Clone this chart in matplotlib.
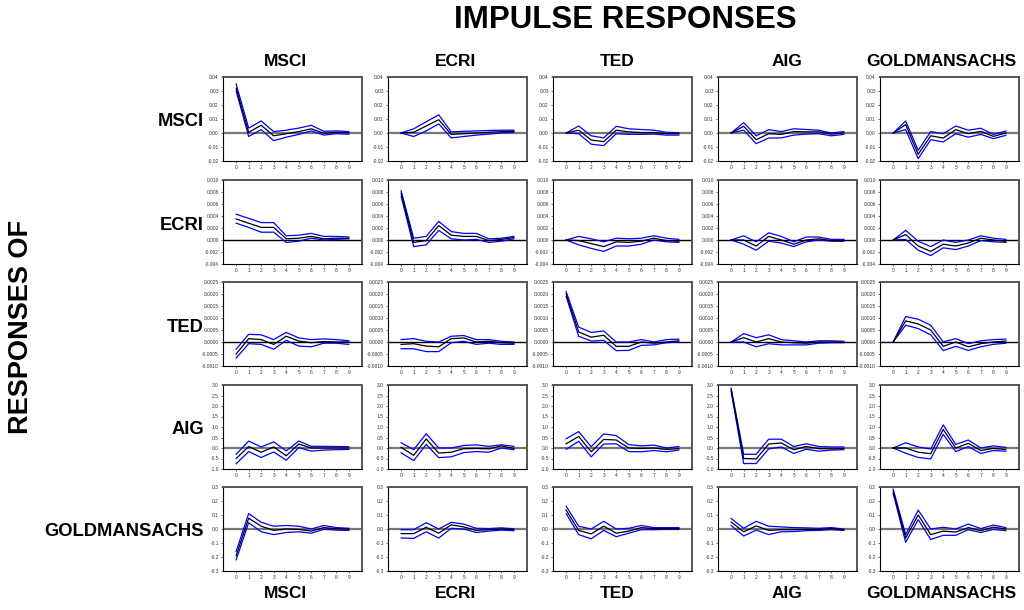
import matplotlib.pyplot as plt
import numpy as np

plt.rcParams['font.family'] = ['Liberation Sans', 'DejaVu Sans']

# --- variables (impulses = columns, responses = rows) ---
names = ["MSCI", "ECRI", "TED", "AIG", "GOLDMANSACHS"]
periods = list(range(10))

# response of MSCI to each impulse (mid, upper, lower band)
msci_mid = [
    [0.032, 0.0005, 0.0055, -0.002, -0.0005, 0.001, 0.003, -0.0002, 0.0005, 0.0002],
    [0.0, 0.0005, 0.005, 0.0095, -0.001, -0.0005, 0.0, 0.0005, 0.001, 0.0012],
    [0.0, 0.002, -0.005, -0.0062, 0.002, 0.0008, 0.0003, 0.0003, -0.0005, -0.0005],
    [0.0, 0.0048, -0.0048, -0.0005, -0.001, 0.001, 0.0008, 0.0008, -0.0008, 0.0],
    [0.0, 0.006, -0.0152, -0.002, -0.0036, 0.0024, -0.0005, 0.0012, -0.0024, 0.0],
]
msci_up = [
    [0.035, 0.0035, 0.0086, 0.001, 0.002, 0.0035, 0.0055, 0.0012, 0.0015, 0.001],
    [0.0, 0.003, 0.008, 0.013, 0.0008, 0.0012, 0.0015, 0.0018, 0.002, 0.002],
    [0.0, 0.005, -0.002, -0.0035, 0.0048, 0.003, 0.0025, 0.002, 0.0005, 0.0002],
    [0.0, 0.0074, -0.002, 0.0024, 0.001, 0.003, 0.0025, 0.002, 0.0, 0.001],
    [0.0, 0.0086, -0.0124, 0.001, -0.0005, 0.005, 0.002, 0.0034, -0.001, 0.0014],
]
msci_lo = [
    [0.030, -0.0025, 0.0024, -0.0055, -0.003, -0.001, 0.0015, -0.0015, -0.0005, -0.0008],
    [0.0, -0.0025, 0.0015, 0.0065, -0.0035, -0.0025, -0.0015, -0.0008, 0.0, 0.0005],
    [0.0, -0.0005, -0.008, -0.009, -0.0005, -0.001, -0.001, -0.0008, -0.0015, -0.0015],
    [0.0, 0.002, -0.0076, -0.0036, -0.0035, -0.0015, -0.0008, -0.0005, -0.002, -0.001],
    [0.0, 0.0024, -0.0183, -0.0048, -0.0064, -0.0005, -0.003, -0.001, -0.004, -0.0017],
]

# response of ECRI
ecri_mid = [
    [0.0035, 0.0028, 0.0021, 0.0021, 0.0002, 0.0003, 0.0006, 0.0002, 0.0003, 0.0003],
    [0.0078, -0.0004, -0.0001, 0.0024, 0.0008, 0.0006, 0.0006, -0.0001, 0.0001, 0.0004],
    [0.0, -0.0001, -0.0006, -0.0011, -0.0003, -0.0004, -0.0002, 0.0003, -0.0001, -0.0002],
    [0.0, 0.0, -0.001, 0.0006, 0.0, -0.0007, 0.0, 0.0002, -0.0001, -0.0001],
    [0.0, 0.0009, -0.001, -0.0019, -0.0007, -0.001, -0.0005, 0.0003, 0.0, -0.0002],
]
ecri_up = [
    [0.0043, 0.0036, 0.0029, 0.0029, 0.0007, 0.0008, 0.0011, 0.0006, 0.0006, 0.0005],
    [0.0082, 0.0003, 0.0006, 0.0031, 0.0014, 0.0011, 0.0011, 0.0002, 0.0003, 0.0006],
    [0.0, 0.0006, 0.0002, -0.0003, 0.0003, 0.0002, 0.0003, 0.0007, 0.0003, 0.0001],
    [0.0, 0.0007, -0.0003, 0.0012, 0.0006, -0.0003, 0.0005, 0.0005, 0.0001, 0.0001],
    [0.0, 0.0016, -0.0002, -0.0011, 0.0, -0.0004, 0.0, 0.0007, 0.0003, 0.0001],
]
ecri_lo = [
    [0.0028, 0.0021, 0.0013, 0.0013, -0.0004, -0.0002, 0.0003, 0.0, 0.0001, 0.0002],
    [0.0073, -0.0011, -0.0008, 0.0016, 0.0002, 0.0, 0.0001, -0.0004, -0.0002, 0.0002],
    [0.0, -0.0008, -0.0014, -0.0019, -0.001, -0.001, -0.0007, 0.0, -0.0003, -0.0004],
    [0.0, -0.0007, -0.0017, -0.0002, -0.0005, -0.0011, -0.0003, 0.0, -0.0002, -0.0002],
    [0.0, 0.0001, -0.0017, -0.0026, -0.0013, -0.0016, -0.001, -0.0001, -0.0003, -0.0004],
]

# response of TED
ted_mid = [
    [-0.0005, 0.00014, 0.0001, -0.0001, 0.00024, 0.00004, -0.00003, 0.00002, 0.0, 0.0],
    [-0.0001, -0.00007, -0.00017, -0.0002, 0.00014, 0.00017, 0.0, 0.00003, -0.00003, -0.00005],
    [0.0020, 0.00042, 0.0002, 0.00028, -0.00018, -0.00018, 0.0, -0.00005, 0.0, 0.00005],
    [0.0, 0.00018, 0.0, 0.00014, 0.0, -0.00003, -0.00005, 0.0, 0.0, 0.0],
    [0.0, 0.00088, 0.00075, 0.0005, -0.00018, 0.0, -0.0002, -0.00007, 0.0, 0.00004],
]
ted_up = [
    [-0.0003, 0.00032, 0.0003, 0.0001, 0.0004, 0.00017, 0.0001, 0.00013, 0.0001, 0.00005],
    [0.0001, 0.00014, 0.00003, 0.0, 0.00024, 0.00027, 0.0001, 0.0001, 0.00003, 0.0],
    [0.0021, 0.00062, 0.0004, 0.00046, 0.0, 0.0, 0.0001, 0.0, 0.0001, 0.00012],
    [0.0, 0.00035, 0.00018, 0.0003, 0.0001, 0.00005, 0.0, 0.00005, 0.00005, 0.00003],
    [0.0, 0.00106, 0.00095, 0.0007, 0.0, 0.00014, -0.00007, 0.00005, 0.0001, 0.00012],
]
ted_lo = [
    [-0.00067, -0.00007, -0.0001, -0.0003, 0.00007, -0.00017, -0.0002, -0.00005, -0.00005, -0.0001],
    [-0.00028, -0.00028, -0.0004, -0.0004, -0.00003, 0.00003, -0.0001, -0.00005, -0.0001, -0.0001],
    [0.0019, 0.00024, 0.00004, 0.00007, -0.00036, -0.00035, -0.00014, -0.00012, -0.00003, 0.0],
    [0.0, 0.0, -0.0002, -0.00007, -0.00012, -0.00012, -0.00012, -0.00005, -0.00003, -0.00003],
    [0.0, 0.0007, 0.00056, 0.0003, -0.00036, -0.00018, -0.00035, -0.0002, -0.0001, -0.00005],
]

# response of AIG
aig_mid = [
    [-0.5, 0.07, -0.2, 0.05, -0.37, 0.19, 0.0, 0.0, 0.0, 0.0],
    [0.03, -0.35, 0.43, -0.24, -0.2, -0.03, -0.02, -0.04, 0.1, -0.02],
    [0.2, 0.55, -0.18, 0.41, 0.38, 0.0, -0.02, 0.0, -0.07, -0.03],
    [2.78, -0.5, -0.52, 0.19, 0.24, -0.08, 0.07, -0.03, -0.04, -0.03],
    [0.0, 0.0, -0.2, -0.27, 0.88, 0.0, 0.22, -0.12, -0.02, -0.07],
]
aig_up = [
    [-0.3, 0.33, 0.05, 0.29, -0.14, 0.33, 0.08, 0.08, 0.07, 0.06],
    [0.25, -0.08, 0.68, 0.0, 0.0, 0.12, 0.15, 0.08, 0.15, 0.08],
    [0.44, 0.78, 0.06, 0.67, 0.59, 0.16, 0.1, 0.14, 0.0, 0.07],
    [2.85, -0.3, -0.3, 0.42, 0.42, 0.07, 0.2, 0.07, 0.05, 0.05],
    [0.0, 0.25, 0.05, -0.05, 1.1, 0.17, 0.38, 0.0, 0.1, 0.03],
]
aig_lo = [
    [-0.75, -0.17, -0.45, -0.19, -0.58, 0.02, -0.15, -0.1, -0.08, -0.07],
    [-0.23, -0.6, 0.17, -0.46, -0.42, -0.22, -0.17, -0.2, 0.0, -0.08],
    [-0.06, 0.32, -0.42, 0.19, 0.2, -0.17, -0.18, -0.12, -0.18, -0.1],
    [2.7, -0.74, -0.74, -0.04, 0.05, -0.26, -0.06, -0.15, -0.1, -0.08],
    [0.0, -0.25, -0.45, -0.52, 0.65, -0.17, 0.07, -0.26, -0.12, -0.15],
]

# response of GOLDMANSACHS
gs_mid = [
    [-0.19, 0.077, 0.02, -0.01, 0.0, -0.003, -0.015, 0.01, 0.002, -0.002],
    [-0.033, -0.033, 0.012, -0.03, 0.03, 0.015, -0.01, -0.005, 0.0, -0.005],
    [0.135, -0.01, -0.035, 0.02, -0.03, -0.015, 0.01, 0.003, 0.003, 0.003],
    [0.05, -0.02, 0.022, -0.01, -0.005, -0.005, -0.003, -0.003, 0.002, -0.005],
    [0.27, -0.064, 0.1, -0.04, -0.015, -0.022, 0.01, -0.012, 0.013, 0.0],
]
gs_up = [
    [-0.16, 0.11, 0.048, 0.02, 0.025, 0.02, 0.0, 0.025, 0.01, 0.005],
    [-0.005, -0.005, 0.045, 0.0, 0.048, 0.035, 0.005, 0.003, 0.008, 0.002],
    [0.163, 0.02, 0.0, 0.055, 0.0, 0.005, 0.025, 0.01, 0.01, 0.01],
    [0.075, 0.005, 0.055, 0.02, 0.015, 0.01, 0.008, 0.005, 0.01, 0.0],
    [0.285, -0.04, 0.135, 0.0, 0.012, 0.0, 0.035, 0.003, 0.028, 0.01],
]
gs_lo = [
    [-0.22, 0.045, -0.02, -0.04, -0.025, -0.02, -0.03, -0.002, -0.008, -0.01],
    [-0.064, -0.067, -0.02, -0.065, 0.005, 0.0, -0.025, -0.015, -0.008, -0.012],
    [0.11, -0.04, -0.07, -0.01, -0.055, -0.03, -0.005, -0.005, -0.003, -0.003],
    [0.025, -0.05, -0.008, -0.04, -0.02, -0.018, -0.012, -0.01, -0.005, -0.01],
    [0.255, -0.095, 0.067, -0.075, -0.045, -0.045, -0.005, -0.025, -0.003, -0.012],
]

mids = [msci_mid, ecri_mid, ted_mid, aig_mid, gs_mid]
ups = [msci_up, ecri_up, ted_up, aig_up, gs_up]
los = [msci_lo, ecri_lo, ted_lo, aig_lo, gs_lo]

# y axis per response row
y_ticks = [
    np.arange(-0.02, 0.0401, 0.01),
    np.arange(-0.004, 0.01001, 0.002),
    np.arange(-0.001, 0.002501, 0.0005),
    np.arange(-1.0, 3.01, 0.5),
    np.arange(-0.3, 0.301, 0.1),
]
y_fmt = ["%.2f", "%.3f", "%.4f", "%.1f", "%.1f"]
zero_gray = [True, False, False, True, True]

# --- layout in pixels ---
W, H = 1024, 610
col_left = [223, 388, 553, 718, 880]
row_top = [77, 180, 282, 385, 487]
pw, ph = 139, 84
head_x = [285, 456, 617, 787, 941]

fig = plt.figure(figsize=(W / 100, H / 100), dpi=100)
fig.patch.set_facecolor("white")

for r in range(5):
    for c in range(5):
        ax = fig.add_axes([col_left[c] / W, 1 - (row_top[r] + ph) / H, pw / W, ph / H])
        if zero_gray[r]:
            ax.axhline(0, color="#777777", lw=1.6, zorder=1)
        else:
            ax.axhline(0, color="black", lw=1.0, zorder=1)
        ax.plot(periods, ups[r][c], color="#0000ff", lw=0.9, zorder=2)
        ax.plot(periods, los[r][c], color="#0000ff", lw=0.9, zorder=2)
        ax.plot(periods, mids[r][c], color="black", lw=0.9, zorder=3)
        ax.set_xlim(-1.05, 10.05)
        yt = y_ticks[r]
        ax.set_ylim(yt[0], yt[-1])
        ax.set_yticks(yt)
        ax.set_yticklabels([y_fmt[r] % v for v in yt])
        ax.set_xticks(periods)
        ax.tick_params(labelsize=3.5, length=1.5, width=0.5, pad=1.5, colors="#333333")
        for s in ["left", "bottom"]:
            ax.spines[s].set_color("black")
            ax.spines[s].set_linewidth(0.8)
        for s in ["top", "right"]:
            ax.spines[s].set_color("#555555")
            ax.spines[s].set_linewidth(1.4)

# titles and labels
fig.text(625 / W, 1 - 20 / H, "IMPULSE RESPONSES", ha="center", va="center",
         fontsize=22.5, fontweight="bold")
fig.text(21 / W, 1 - 327 / H, "RESPONSES OF", ha="center", va="center",
         rotation=90, fontsize=19.5, fontweight="bold")
for i, n in enumerate(names):
    fig.text(head_x[i] / W, 1 - 61 / H, n, ha="center", va="center",
             fontsize=12.5, fontweight="bold")
    fig.text(head_x[i] / W, 1 - 594 / H, n, ha="center", va="center",
             fontsize=12.5, fontweight="bold")
    fig.text(204 / W, 1 - (row_top[i] + ph / 2 + 3) / H, n, ha="right", va="center",
             fontsize=13.2, fontweight="bold")

fig.savefig("out.png", dpi=100, facecolor="white")
